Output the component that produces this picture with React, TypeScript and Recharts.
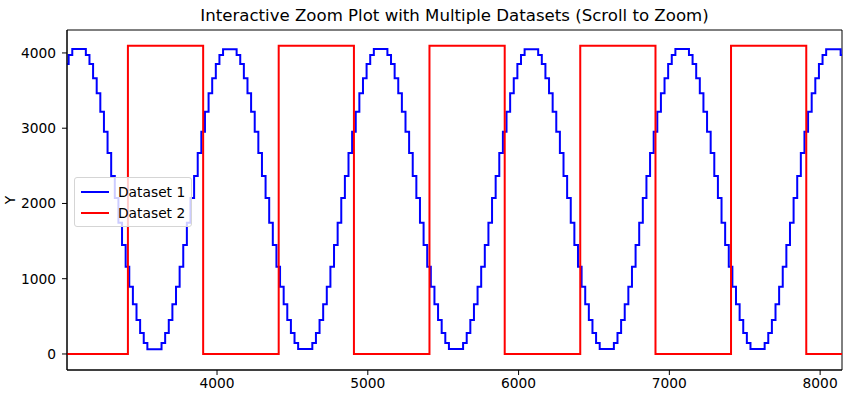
import React from "react";
import { LineChart, Line, XAxis, YAxis, Legend, ReferenceArea, Label } from "recharts";

// step starts (x) and held levels (y) for Dataset 1
const dataset1X = [
  3000, 3016, 3040,
  3130, 3154, 3178, 3202, 3226, 3250, 3274, 3298, 3322, 3346, 3370, 3394, 3418, 3442, 3466, 3490, 3514, 3538,
  3632, 3656, 3680, 3704, 3728, 3752, 3776, 3800, 3824, 3848, 3872, 3896, 3920, 3944, 3968, 3992, 4016, 4040,
  4130, 4154, 4178, 4202, 4226, 4250, 4274, 4298, 4322, 4346, 4370, 4394, 4418, 4442, 4466, 4490, 4514, 4538,
  4632, 4656, 4680, 4704, 4728, 4752, 4776, 4800, 4824, 4848, 4872, 4896, 4920, 4944, 4968, 4992, 5016, 5040,
  5130, 5154, 5178, 5202, 5226, 5250, 5274, 5298, 5322, 5346, 5370, 5394, 5418, 5442, 5466, 5490, 5514, 5538,
  5632, 5656, 5680, 5704, 5728, 5752, 5776, 5800, 5824, 5848, 5872, 5896, 5920, 5944, 5968, 5992, 6016, 6040,
  6130, 6154, 6178, 6202, 6226, 6250, 6274, 6298, 6322, 6346, 6370, 6394, 6418, 6442, 6466, 6490, 6514, 6538,
  6632, 6656, 6680, 6704, 6728, 6752, 6776, 6800, 6824, 6848, 6872, 6896, 6920, 6944, 6968, 6992, 7016, 7040,
  7130, 7154, 7178, 7202, 7226, 7250, 7274, 7298, 7322, 7346, 7370, 7394, 7418, 7442, 7466, 7490, 7514, 7538,
  7632, 7656, 7680, 7704, 7728, 7752, 7776, 7800, 7824, 7848, 7872, 7896, 7920, 7944, 7968, 7992, 8016, 8040,
  8136, 8160,
];
const dataset1Y = [
  3854, 3973, 4053,
  3973, 3854, 3664, 3465, 3220, 2954, 2671, 2365, 2073, 1745, 1449, 1160, 894, 660, 452, 279, 146, 62,
  146, 279, 452, 660, 894, 1160, 1449, 1745, 2073, 2365, 2671, 2954, 3220, 3465, 3664, 3854, 3973, 4050,
  3973, 3854, 3664, 3465, 3220, 2954, 2671, 2365, 2073, 1745, 1449, 1160, 894, 660, 452, 279, 146, 66,
  146, 279, 452, 660, 894, 1160, 1449, 1745, 2073, 2365, 2671, 2954, 3220, 3465, 3664, 3854, 3973, 4053,
  3973, 3854, 3664, 3465, 3220, 2954, 2671, 2365, 2073, 1745, 1449, 1160, 894, 660, 452, 279, 146, 66,
  146, 279, 452, 660, 894, 1160, 1449, 1745, 2073, 2365, 2671, 2954, 3220, 3465, 3664, 3854, 3973, 4050,
  3973, 3854, 3664, 3465, 3220, 2954, 2671, 2365, 2073, 1745, 1449, 1160, 894, 660, 452, 279, 146, 66,
  146, 279, 452, 660, 894, 1160, 1449, 1745, 2073, 2365, 2671, 2954, 3220, 3465, 3664, 3854, 3973, 4053,
  3973, 3854, 3664, 3465, 3220, 2954, 2671, 2365, 2073, 1745, 1449, 1160, 894, 660, 452, 279, 146, 66,
  146, 279, 452, 660, 894, 1160, 1449, 1745, 2073, 2365, 2671, 2954, 3220, 3465, 3664, 3854, 3973, 4050,
  3973, 3973,
];

// square wave corners for Dataset 2
const dataset2X = [
  3000, 3409, 3409, 3908, 3908, 4409, 4409, 4908, 4908, 5409, 5409, 5908, 5908,
  6409, 6409, 6908, 6908, 7409, 7409, 7908, 7908, 8160,
];
const dataset2Y = [
  0, 0, 4095, 4095, 0, 0, 4095, 4095, 0, 0, 4095, 4095, 0,
  0, 4095, 4095, 0, 0, 4095, 4095, 0, 0,
];

const xTicks = [4000, 5000, 6000, 7000, 8000];
const yTicks = [0, 1000, 2000, 3000, 4000];
const xDomain = [3005, 8145];
const yDomain = [-213, 4305];

const series1 = dataset1X.map((x, i) => ({ x, y: dataset1Y[i] }));
const series2 = dataset2X.map((x, i) => ({ x, y: dataset2Y[i] }));

const font = "'DejaVu Sans', sans-serif";
const tickStyle = { fill: "#000", fontSize: 13.8, fontFamily: font };

function LegendBox() {
  const rows = [
    { name: "Dataset 1", color: "#0000ff" },
    { name: "Dataset 2", color: "#ff0000" },
  ];
  return (
    <div
      style={{
        background: "rgba(255,255,255,0.8)",
        border: "1px solid #d5d5d5",
        borderRadius: 3,
        padding: "3px 6px 3px 6px",
        fontFamily: font,
        fontSize: 13.8,
      }}
    >
      {rows.map((r) => (
        <div key={r.name} style={{ display: "flex", alignItems: "center", height: 21 }}>
          <div style={{ width: 28, height: 2, background: r.color, marginRight: 9 }} />
          <span>{r.name}</span>
        </div>
      ))}
    </div>
  );
}

export default function App() {
  return (
    <div style={{ position: "absolute", left: 0, top: 0, width: 848, height: 395, background: "#fff" }}>
      <div
        style={{
          position: "absolute",
          left: 67,
          top: 6,
          width: 775,
          textAlign: "center",
          fontFamily: font,
          fontSize: 16.6,
          lineHeight: "20px",
        }}
      >
        Interactive Zoom Plot with Multiple Datasets (Scroll to Zoom)
      </div>
      <LineChart width={848} height={395} margin={{ top: 30, right: 6, bottom: 0, left: 0 }}>
        <XAxis
          dataKey="x"
          type="number"
          domain={xDomain}
          allowDataOverflow
          ticks={xTicks}
          height={25}
          tick={tickStyle}
          tickSize={5}
          tickMargin={3}
          stroke="#000"
        />
        <YAxis
          dataKey="y"
          type="number"
          domain={yDomain}
          allowDataOverflow
          ticks={yTicks}
          width={67}
          tick={tickStyle}
          tickSize={5}
          tickMargin={6}
          stroke="#000"
        >
          <Label
            content={() => (
              <text
                x={11}
                y={200}
                transform="rotate(-90 11 200)"
                textAnchor="middle"
                dominantBaseline="middle"
                style={{ fontFamily: font, fontSize: 13.8 }}
                fill="#000"
              >
                Y
              </text>
            )}
          />
        </YAxis>
        <ReferenceArea
          x1={xDomain[0]}
          x2={xDomain[1]}
          y1={yDomain[0]}
          y2={yDomain[1]}
          fill="none"
          fillOpacity={0}
          stroke="#000"
          strokeWidth={1}
        />
        <Line
          data={series1}
          dataKey="y"
          name="Dataset 1"
          type="stepAfter"
          stroke="#0000ff"
          strokeWidth={2}
          dot={false}
          isAnimationActive={false}
        />
        <Line
          data={series2}
          dataKey="y"
          name="Dataset 2"
          type="linear"
          stroke="#ff0000"
          strokeWidth={2}
          dot={false}
          isAnimationActive={false}
        />
        <Legend
          layout="vertical"
          align="center"
          verticalAlign="middle"
          content={() => <LegendBox />}
          wrapperStyle={{ left: 74, top: 177, width: "auto" }}
        />
      </LineChart>
    </div>
  );
}
